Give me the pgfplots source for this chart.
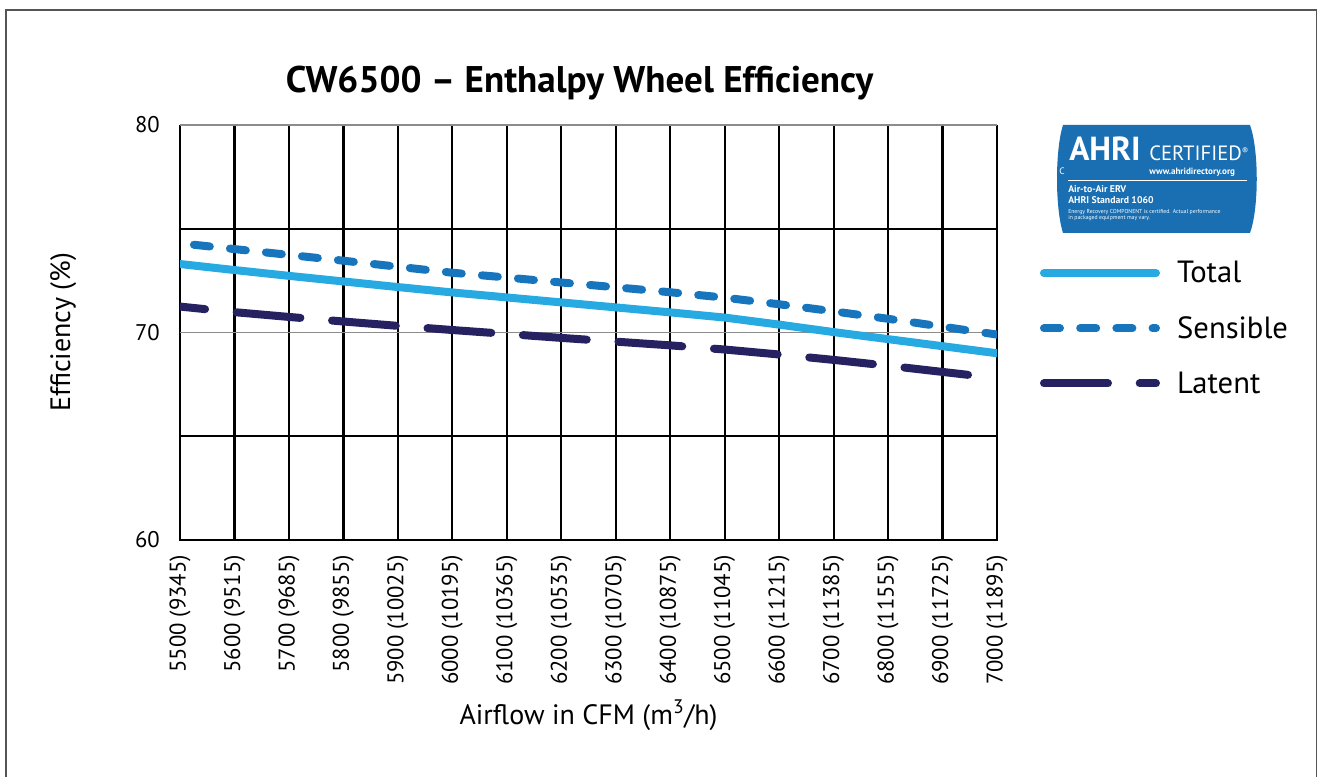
\documentclass[border=0pt]{standalone}
\usepackage{fontspec}
\setmainfont{PT Sans}
\usepackage{pgfplots}
\pgfplotsset{compat=1.18}
\usepackage{pgfplotstable}
\definecolor{ctotal}{RGB}{39,170,225}
\definecolor{csens}{RGB}{22,117,189}
\definecolor{clat}{RGB}{38,34,98}
\definecolor{clogo}{RGB}{26,111,178}
\definecolor{cframe}{RGB}{85,85,85}
\definecolor{cgrid}{RGB}{140,140,140}

\pgfplotstableread{
cfm   total  sensible latent
5500  73.30  74.30    71.25
5600  73.01  74.02    70.98
5700  72.73  73.74    70.75
5800  72.46  73.46    70.53
5900  72.19  73.17    70.32
6000  71.93  72.88    70.12
6100  71.69  72.65    69.93
6200  71.45  72.41    69.74
6300  71.21  72.18    69.56
6400  70.97  71.94    69.38
6500  70.72  71.68    69.18
6600  70.38  71.36    68.94
6700  70.02  71.02    68.68
6800  69.68  70.66    68.40
6900  69.34  70.28    68.10
7000  69.00  69.90    67.80
}\datatable

\begin{document}
\begin{tikzpicture}
\useasboundingbox (0,0) rectangle (988.5pt,-582.75pt);
\begin{scope}[x=0.75pt,y=-0.75pt]
\draw[cframe, line width=1.1pt] (5.8,790) -- (5.8,10) -- (1316.7,10) -- (1316.7,790);
% AHRI certification badge
\fill[clogo] (1063,125) -- (1250,125) .. controls (1259,150) and (1259,208) .. (1250,233) -- (1063,233) .. controls (1055,208) and (1055,150) .. (1063,125) -- cycle;
\begin{scope}[every node/.style={white, anchor=base west, inner sep=0pt}]
\node[font=\fontsize{25}{25}\bfseries\selectfont] at (1069,160.5) {AHRI};
\node[font=\fontsize{15.5}{15}\selectfont] at (1149,161) {CERTIFIED\textsuperscript{\fontsize{7}{7}\selectfont ®}};
\node[font=\fontsize{6.8}{7}\bfseries\selectfont] at (1149,174.5) {www.ahridirectory.org};
\node[font=\fontsize{7}{7}\selectfont] at (1059,175) {C};
\node[font=\fontsize{7.3}{8}\bfseries\selectfont] at (1068,192.7) {Air-to-Air ERV};
\node[font=\fontsize{7.3}{8}\bfseries\selectfont] at (1068,203.3) {AHRI Standard 1060};
\node[font=\fontsize{4.3}{5}\selectfont] at (1068,213.5) {Energy Recovery COMPONENT is certified. Actual performance};
\node[font=\fontsize{4.3}{5}\selectfont] at (1068,219.5) {in packaged equipment may vary.};
\end{scope}
\draw[white, line width=0.7pt] (1068,180) -- (1247,180);
\end{scope}

\begin{axis}[
  at={(135pt,-405pt)}, anchor=south west,
  scale only axis, width=612.75pt, height=311.25pt,
  xmin=5500, xmax=7000, ymin=60, ymax=80, enlargelimits=false,
  axis line style={draw=none},
  major tick length=0pt,
  xtick={5500,5600,...,7000},
  xticklabels={5500 (9345),5600 (9515),5700 (9685),5800 (9855),5900 (10025),6000 (10195),6100 (10365),6200 (10535),6300 (10705),6400 (10875),6500 (11045),6600 (11215),6700 (11385),6800 (11555),6900 (11725),7000 (11895)},
  ytick={60,70,80}, yticklabels={60,70,80},
  xmajorgrids, major grid style={black, line width=1.65pt},
  tick label style={font=\fontsize{17}{20}\selectfont, inner sep=0pt},
  xticklabel style={rotate=90, anchor=east},
  xticklabel shift=11pt, yticklabel shift=15pt,
  xlabel={Airflow in CFM (m\textsuperscript{3}/h)},
  ylabel={Efficiency (\%)},
  label style={font=\fontsize{21}{24}\selectfont, inner sep=0pt},
  xlabel style={at={(axis description cs:0.5,-0.4434)}, anchor=base},
  ylabel style={at={(axis description cs:-0.1346,0.5)}, anchor=base},
  title={CW6500 – Enthalpy Wheel Efficiency},
  title style={at={(axis description cs:0.489,1.0795)}, anchor=base, yshift=-6pt, inner sep=0pt, font=\fontsize{27.8}{30}\bfseries\selectfont},
  clip mode=individual,
  legend style={at={(axis description cs:1.0526,0.6711)}, anchor=north west, draw=none, fill=none,
    inner sep=0pt, outer sep=0pt, row sep=23.6pt, column sep=12.9pt,
    font=\fontsize{23}{26}\selectfont, nodes={inner sep=0pt, outer sep=0pt}},
  legend cell align=left,
  legend image code/.code={\draw[#1, dash phase=0pt] (0pt,0pt) -- (84pt,0pt);},
]
\draw[cgrid, line width=0.9pt] (axis cs:5500,80) -- (axis cs:7000,80);
\draw[cgrid, line width=0.9pt] (axis cs:5500,70) -- (axis cs:7000,70);
\draw[black, line width=1.65pt, line cap=rect] (axis cs:5500,75) -- (axis cs:7000,75);
\draw[black, line width=1.65pt, line cap=rect] (axis cs:5500,65) -- (axis cs:7000,65);
\draw[black, line width=1.65pt, line cap=rect] (axis cs:5500,60) -- (axis cs:7000,60);
\addplot[ctotal, line width=6pt, line cap=round, line join=round] table[x=cfm, y=total] {\datatable};
\addlegendentry{Total}
\addplot[csens, line width=6pt, line cap=round, line join=round, dash pattern=on 12pt off 15.15pt, dash phase=16.65pt] table[x=cfm, y=sensible] {\datatable};
\addlegendentry{Sensible}
\addplot[clat, line width=6pt, line cap=round, line join=round, dash pattern=on 48pt off 23.8pt, dash phase=29.1pt] table[x=cfm, y=latent] {\datatable};
\addlegendentry{Latent}
\end{axis}
\end{tikzpicture}
\end{document}
